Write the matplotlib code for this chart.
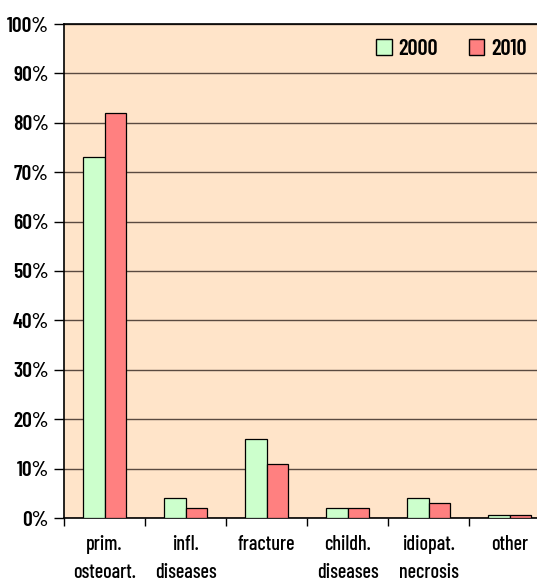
import matplotlib
matplotlib.use("Agg")
import matplotlib.pyplot as plt
import numpy as np
from matplotlib.patches import Patch

categories = ["prim.\nosteoart.", "infl.\ndiseases", "fracture", "childh.\ndiseases", "idiopat.\nnecrosis", "other"]
values_2000 = [73, 4, 16, 2, 4, 0.7]
values_2010 = [82, 2, 11, 2, 3, 0.7]
yticks = [0, 10, 20, 30, 40, 50, 60, 70, 80, 90, 100]
ytick_labels = [f"{v}%" for v in yticks]

plt.rcParams['font.family'] = ['Barlow Condensed', 'DejaVu Sans']

fig = plt.figure(figsize=(5.37, 5.85), dpi=100)
W, H = 537, 585
ax = fig.add_axes([64 / W, (H - 518) / H, 486 / W, 494 / H])
ax.set_facecolor('#FFE4C9')

x = np.arange(len(categories))
bw = 0.26
ax.bar(x - bw / 2, values_2000, bw, color='#CCFFCC', edgecolor='black', linewidth=0.9, zorder=3)
ax.bar(x + bw / 2, values_2010, bw, color='#FF8080', edgecolor='black', linewidth=0.9, zorder=3)

ax.set_xlim(-0.5, len(categories) - 0.5)
ax.set_ylim(0, 100)
ax.set_yticks(yticks)
ax.set_yticklabels(ytick_labels, fontsize=15.5, fontweight='semibold')
ax.yaxis.grid(True, color='#5a4a40', linewidth=1.0, zorder=1)
ax.tick_params(axis='y', length=7, width=1, direction='out', pad=4)

ax.set_xticks(np.arange(-0.5, len(categories), 1.0))
ax.set_xticklabels([])
ax.set_xticks(x, minor=True)
ax.set_xticklabels(categories, minor=True, fontsize=14.5, fontweight='medium', linespacing=1.6, va='top')
ax.tick_params(axis='x', which='major', length=6, width=1, direction='out')
ax.tick_params(axis='x', which='minor', length=0, pad=12)

for s in ['left', 'top', 'bottom']:
    ax.spines[s].set_color('black')
    ax.spines[s].set_linewidth(1.2)
ax.spines['right'].set_visible(False)

handles = [Patch(facecolor='#CCFFCC', edgecolor='black', label='2000'),
           Patch(facecolor='#FF8080', edgecolor='black', label='2010')]
ax.legend(handles=handles, loc='upper left', bbox_to_anchor=((376 - 64) / 486, 1 - (39 - 24) / 494),
          ncol=2, frameon=False, borderpad=0, borderaxespad=0, handlelength=0.7, handleheight=0.7,
          columnspacing=1.4, handletextpad=0.3, prop={'weight': 'semibold', 'size': 16})

fig.savefig('out.png', dpi=100)
